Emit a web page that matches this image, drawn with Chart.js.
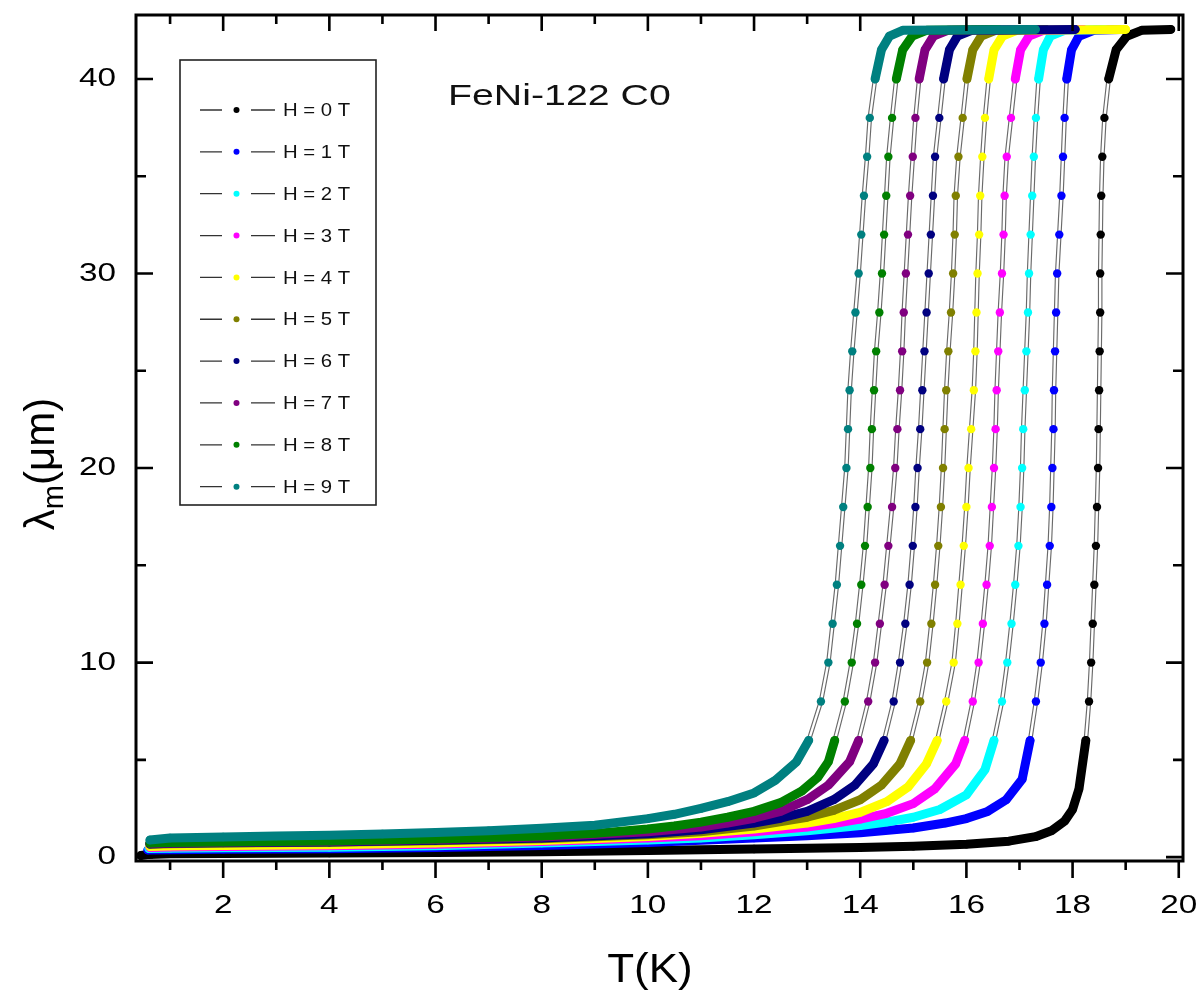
<!DOCTYPE html>
<html>
<head>
<meta charset="utf-8">
<script src="https://cdn.jsdelivr.net/npm/chart.js@4.4.1/dist/chart.umd.min.js"></script>
<style>
    html, body { margin: 0; padding: 0; background: #fff; }
    #wrap { width: 1201px; height: 991px; }
</style>
</head>
<body>
<div id="wrap"><canvas id="lambdaChart" width="1201" height="991"></canvas></div>
<script>
// ── Dades llegides de la figura ──────────────────────────────

const fieldLabels = ['H = 0 T', 'H = 1 T', 'H = 2 T', 'H = 3 T', 'H = 4 T',
                     'H = 5 T', 'H = 6 T', 'H = 7 T', 'H = 8 T', 'H = 9 T'];
const fieldColors = ['#000000', '#0000ff', '#00ffff', '#ff00ff', '#ffff00',
                     '#808000', '#000080', '#800080', '#008000', '#008080'];

// low-temperature part of each curve: T (K) and lambda (um)
const lowT = [
    [0.45, 0.6, 1, 2, 4, 6, 8, 10, 12, 14, 15, 16, 16.8, 17.3, 17.6, 17.85, 18.0, 18.12],
    [0.58, 1, 2, 4, 6, 8, 10, 12, 13, 14, 15, 15.6, 16, 16.4, 16.75, 17.05],
    [0.6, 1, 2, 4, 6, 8, 10, 11, 12, 13, 14, 14.5, 15, 15.5, 16, 16.35],
    [0.62, 1, 2, 4, 6, 8, 10, 11, 12, 13, 13.5, 14, 14.5, 15, 15.4, 15.8],
    [0.62, 1, 2, 4, 6, 8, 10, 11, 12, 13, 13.5, 14, 14.5, 14.9, 15.25],
    [0.62, 1, 2, 4, 6, 8, 10, 11, 12, 13, 13.5, 14, 14.4, 14.75],
    [0.62, 1, 2, 4, 6, 8, 10, 11, 12, 12.5, 13, 13.5, 13.9, 14.25],
    [0.62, 1, 2, 4, 6, 8, 10, 11, 11.5, 12, 12.5, 13, 13.4, 13.8],
    [0.62, 1, 2, 4, 6, 8, 9, 10, 10.5, 11, 11.5, 12, 12.5, 12.9, 13.2, 13.4],
    [0.62, 1, 2, 3, 4, 5, 6, 7, 8, 9, 10, 10.5, 11, 11.5, 12, 12.4, 12.8],
];
const lowLambda = [
    [0.08, 0.14, 0.17, 0.19, 0.21, 0.24, 0.28, 0.34, 0.42, 0.5, 0.56, 0.66, 0.82, 1.05, 1.35, 1.85, 2.45, 3.5],
    [0.36, 0.38, 0.4, 0.43, 0.49, 0.6, 0.75, 0.98, 1.1, 1.25, 1.5, 1.75, 1.98, 2.35, 2.95, 4.0],
    [0.44, 0.46, 0.48, 0.51, 0.58, 0.72, 0.88, 0.98, 1.15, 1.35, 1.62, 1.8, 2.05, 2.45, 3.2, 4.5],
    [0.5, 0.52, 0.54, 0.58, 0.66, 0.8, 0.98, 1.1, 1.3, 1.55, 1.72, 1.95, 2.25, 2.75, 3.5, 4.8],
    [0.55, 0.57, 0.6, 0.64, 0.72, 0.86, 1.06, 1.22, 1.45, 1.75, 1.98, 2.3, 2.85, 3.6, 4.8],
    [0.66, 0.69, 0.72, 0.76, 0.84, 0.95, 1.15, 1.3, 1.6, 2.05, 2.4, 2.95, 3.7, 4.8],
    [0.68, 0.71, 0.74, 0.78, 0.87, 0.98, 1.2, 1.4, 1.75, 2.0, 2.35, 2.95, 3.7, 4.8],
    [0.7, 0.73, 0.76, 0.8, 0.9, 1.03, 1.3, 1.55, 1.75, 2.0, 2.35, 2.95, 3.7, 4.9],
    [0.72, 0.75, 0.78, 0.83, 0.93, 1.08, 1.22, 1.45, 1.6, 1.8, 2.05, 2.35, 2.8, 3.4, 4.1, 4.9],
    [0.88, 0.98, 1.03, 1.08, 1.13, 1.19, 1.27, 1.36, 1.48, 1.64, 1.98, 2.2, 2.5, 2.85, 3.3, 3.95, 4.9],
];

// steep transition: the same lambda levels for all curves, T read per curve
const steepLambda = [6, 8, 10, 12, 14, 16, 18, 20, 22, 24, 26, 28, 30, 32, 34, 36, 38, 40, 41.5, 42.2, 42.5];
const steepT = [
    [18.25, 18.31, 18.35, 18.38, 18.41, 18.44, 18.46, 18.48, 18.49, 18.50, 18.51, 18.52, 18.52, 18.53, 18.54, 18.56, 18.60, 18.68, 18.82, 19.02, 19.30],
    [17.20, 17.31, 17.40, 17.47, 17.52, 17.57, 17.60, 17.62, 17.64, 17.65, 17.67, 17.69, 17.71, 17.75, 17.79, 17.82, 17.85, 17.89, 17.98, 18.12, 18.40],
    [16.52, 16.67, 16.77, 16.85, 16.92, 16.98, 17.02, 17.05, 17.07, 17.10, 17.13, 17.16, 17.18, 17.21, 17.24, 17.27, 17.31, 17.36, 17.45, 17.58, 17.85],
    [15.97, 16.12, 16.23, 16.31, 16.38, 16.44, 16.48, 16.52, 16.55, 16.57, 16.60, 16.63, 16.67, 16.70, 16.72, 16.76, 16.84, 16.92, 17.02, 17.18, 17.45],
    [15.45, 15.62, 15.76, 15.83, 15.89, 15.95, 16.00, 16.04, 16.09, 16.14, 16.17, 16.19, 16.21, 16.24, 16.26, 16.30, 16.35, 16.42, 16.52, 16.68, 16.95],
    [14.95, 15.13, 15.26, 15.34, 15.41, 15.47, 15.52, 15.56, 15.59, 15.62, 15.66, 15.71, 15.75, 15.78, 15.80, 15.85, 15.93, 16.01, 16.12, 16.28, 16.55],
    [14.45, 14.63, 14.75, 14.85, 14.93, 14.99, 15.04, 15.08, 15.13, 15.17, 15.21, 15.25, 15.29, 15.33, 15.37, 15.41, 15.49, 15.57, 15.68, 15.83, 16.10],
    [13.97, 14.15, 14.28, 14.37, 14.46, 14.53, 14.60, 14.66, 14.70, 14.75, 14.79, 14.82, 14.86, 14.90, 14.94, 14.99, 15.04, 15.11, 15.22, 15.38, 15.65],
    [13.52, 13.71, 13.84, 13.94, 14.02, 14.09, 14.14, 14.19, 14.22, 14.26, 14.30, 14.36, 14.41, 14.45, 14.49, 14.53, 14.60, 14.68, 14.80, 14.98, 15.25],
    [13.03, 13.26, 13.40, 13.48, 13.56, 13.62, 13.68, 13.74, 13.77, 13.80, 13.85, 13.91, 13.97, 14.02, 14.07, 14.13, 14.18, 14.28, 14.40, 14.55, 14.80],
];

// last point of each curve on the saturated plateau
const plateauLambda = 42.55;
const plateauEndT = [19.85, 18.9, 18.6, 18.2, 19.0, 17.5, 18.05, 16.9, 16.6, 17.3];

const xMajorTicks = [2, 4, 6, 8, 10, 12, 14, 16, 18, 20];
const xMinorTicks = [1, 3, 5, 7, 9, 11, 13, 15, 17, 19];
const yMajorTicks = [0, 10, 20, 30, 40];
const yMinorTicks = [5, 15, 25, 35];

// ── Estils ───────────────────────────────────────────────────

const FONT = '"Liberation Sans", Arial, sans-serif';
const BAND_WIDTH = 9;

document.addEventListener('DOMContentLoaded', () => {
    renderLambdaChart();
});

function buildPoints(i) {
    const pts = lowT[i].map((t, k) => ({ x: t, y: lowLambda[i][k] }));
    steepT[i].forEach((t, k) => pts.push({ x: t, y: steepLambda[k] }));
    pts.push({ x: plateauEndT[i], y: plateauLambda });
    return pts;
}

// dense parts of a sweep (flat tail and plateau) show up as a solid coloured band
function isBandSegment(y0, y1) {
    return Math.max(y0, y1) <= 6 || Math.min(y0, y1) >= 40;
}

// ── Connectors: double grey line in the steep part ───────────

const doubleLinePlugin = {
    id: 'doubleLine',
    beforeDatasetDraw(chart, args) {
        const { ctx, chartArea } = chart;
        const pts = args.meta.data;
        const data = chart.data.datasets[args.index].data;

        ctx.save();
        ctx.beginPath();
        ctx.rect(chartArea.left, chartArea.top, chartArea.width, chartArea.height);
        ctx.clip();

        ctx.beginPath();
        let open = false;
        for (let k = 0; k < pts.length - 1; k++) {
            if (isBandSegment(data[k].y, data[k + 1].y)) { open = false; continue; }
            if (!open) { ctx.moveTo(pts[k].x, pts[k].y); open = true; }
            ctx.lineTo(pts[k + 1].x, pts[k + 1].y);
        }
        ctx.lineJoin = 'round';
        ctx.strokeStyle = '#6a6a6a';
        ctx.lineWidth = 4.6;
        ctx.stroke();
        ctx.strokeStyle = '#ffffff';
        ctx.lineWidth = 2.3;
        ctx.stroke();
        ctx.restore();
    },
};

// ── Frame, ticks, texts and legend (Origin style) ────────────

function stretchText(ctx, text, x, y, sx, align) {
    ctx.save();
    ctx.translate(x, y);
    ctx.scale(sx, 1);
    ctx.textAlign = align;
    ctx.fillText(text, 0, 0);
    ctx.restore();
}

const originFramePlugin = {
    id: 'originFrame',
    afterDraw(chart) {
        const { ctx, chartArea: a, scales } = chart;
        const xs = scales.x, ys = scales.y;

        ctx.save();
        ctx.strokeStyle = '#000';
        ctx.lineWidth = 3;
        ctx.strokeRect(a.left, a.top, a.right - a.left, a.bottom - a.top);

        // x ticks: outward at the bottom, inward at the top
        ctx.lineWidth = 2.6;
        ctx.beginPath();
        xMajorTicks.forEach(v => {
            const px = xs.getPixelForValue(v);
            ctx.moveTo(px, a.bottom); ctx.lineTo(px, a.bottom + 17);
            ctx.moveTo(px, a.top);    ctx.lineTo(px, a.top + 16);
        });
        xMinorTicks.forEach(v => {
            const px = xs.getPixelForValue(v);
            ctx.moveTo(px, a.bottom); ctx.lineTo(px, a.bottom + 9);
            ctx.moveTo(px, a.top);    ctx.lineTo(px, a.top + 9);
        });
        // y ticks: inward on both sides
        yMajorTicks.forEach(v => {
            const py = ys.getPixelForValue(v);
            ctx.moveTo(a.left, py);  ctx.lineTo(a.left + 17, py);
            ctx.moveTo(a.right, py); ctx.lineTo(a.right - 17, py);
        });
        yMinorTicks.forEach(v => {
            const py = ys.getPixelForValue(v);
            ctx.moveTo(a.left, py);  ctx.lineTo(a.left + 10, py);
            ctx.moveTo(a.right, py); ctx.lineTo(a.right - 10, py);
        });
        ctx.stroke();

        // tick labels
        ctx.fillStyle = '#000';
        ctx.font = `26px ${FONT}`;
        ctx.textBaseline = 'middle';
        xMajorTicks.forEach(v => stretchText(ctx, String(v), xs.getPixelForValue(v), 906, 1.28, 'center'));
        yMajorTicks.forEach(v => stretchText(ctx, String(v), 116, ys.getPixelForValue(v), 1.28, 'right'));

        // axis titles
        ctx.textBaseline = 'alphabetic';
        ctx.font = `40px ${FONT}`;
        stretchText(ctx, 'T(K)', 650, 982, 1.1, 'center');
        drawYTitle(ctx);

        // annotation
        ctx.font = `30px ${FONT}`;
        ctx.fillStyle = '#111';
        stretchText(ctx, 'FeNi-122 C0', 448, 105, 1.31, 'left');

        drawLegend(ctx, chart);
        ctx.restore();
    },
};

function drawYTitle(ctx) {
    const big = `42px ${FONT}`, small = `29px ${FONT}`;
    ctx.save();
    ctx.translate(54, 464);
    ctx.rotate(-Math.PI / 2);
    ctx.fillStyle = '#000';
    ctx.textAlign = 'left';
    ctx.font = big;   const w1 = ctx.measureText('λ').width;
    ctx.font = small; const w2 = ctx.measureText('m').width;
    ctx.font = big;   const w3 = ctx.measureText('(μm)').width;
    let x = -(w1 + w2 + w3) / 2;
    ctx.font = big;   ctx.fillText('λ', x, 0); x += w1;
    ctx.font = small; ctx.fillText('m', x, 9); x += w2;
    ctx.font = big;   ctx.fillText('(μm)', x, 0);
    ctx.restore();
}

function drawLegend(ctx, chart) {
    ctx.save();
    ctx.strokeStyle = '#222';
    ctx.lineWidth = 1.6;
    ctx.strokeRect(180, 60, 196, 445);

    ctx.font = `19px ${FONT}`;
    ctx.textBaseline = 'middle';
    chart.data.datasets.forEach((ds, i) => {
        const y = 110 + i * 41.85;
        ctx.strokeStyle = '#333';
        ctx.lineWidth = 1.3;
        ctx.beginPath();
        ctx.moveTo(200, y); ctx.lineTo(222, y);
        ctx.moveTo(251, y); ctx.lineTo(275, y);
        ctx.stroke();
        ctx.fillStyle = fieldColors[i];
        ctx.beginPath();
        ctx.arc(236.5, y, 3, 0, Math.PI * 2);
        ctx.fill();
        ctx.fillStyle = '#111';
        stretchText(ctx, ds.label, 283, y + 1, 1.07, 'left');
    });
    ctx.restore();
}

// ── Gràfic ───────────────────────────────────────────────────

function renderLambdaChart() {
    const canvas = document.getElementById('lambdaChart');

    const datasets = fieldLabels.map((label, i) => ({
        label,
        data: buildPoints(i),
        order: fieldLabels.length - 1 - i,   // H = 9 T drawn on top
        borderColor: fieldColors[i],
        backgroundColor: fieldColors[i],
        pointBackgroundColor: fieldColors[i],
        pointBorderWidth: 0,
        pointRadius: 4.2,
        pointHoverRadius: 4.2,
        borderCapStyle: 'round',
        borderJoinStyle: 'round',
        tension: 0,
        segment: {
            borderColor: c => isBandSegment(c.p0.parsed.y, c.p1.parsed.y) ? fieldColors[i] : 'rgba(0,0,0,0)',
            borderWidth: c => isBandSegment(c.p0.parsed.y, c.p1.parsed.y) ? BAND_WIDTH : 1,
        },
    }));

    new Chart(canvas, {
        type: 'line',
        data: { datasets },
        options: {
            responsive: false,
            animation: false,
            devicePixelRatio: 1,
            events: [],
            layout: { padding: { left: 136, right: 18, top: 15, bottom: 130 } },
            plugins: {
                legend: { display: false },
                tooltip: { enabled: false },
            },
            scales: {
                x: { type: 'linear', min: 0.358, max: 20.08, display: false },
                y: { type: 'linear', min: -0.2, max: 43.29, display: false },
            },
        },
        plugins: [doubleLinePlugin, originFramePlugin],
    });
}
</script>
</body>
</html>
